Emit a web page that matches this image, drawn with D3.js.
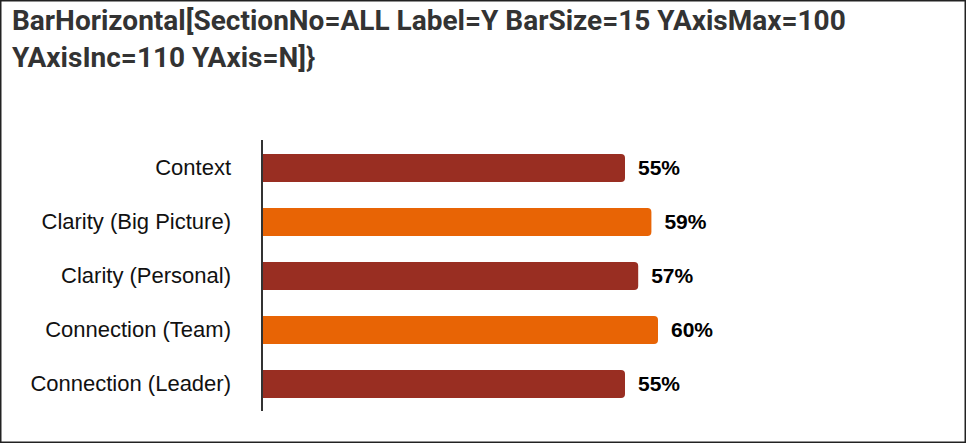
<!DOCTYPE html>
<html><head><meta charset="utf-8">
<script src="https://cdn.jsdelivr.net/npm/d3@7"></script>
<style>html,body{margin:0;padding:0;background:#fff;}svg{display:block;}</style>
</head><body>
<svg id="chart" width="967" height="444"></svg>
<script>
const titleLines = ["BarHorizontal[SectionNo=ALL Label=Y BarSize=15 YAxisMax=100", "YAxisInc=110 YAxis=N]}"];
const categories = ["Context", "Clarity (Big Picture)", "Clarity (Personal)", "Connection (Team)", "Connection (Leader)"];
const values = [55, 59, 57, 60, 55];
const barColors = ["#992e22", "#e86405", "#992e22", "#e86405", "#992e22"];
const yAxisMax = 100;

const svg = d3.select("#chart");
svg.append("rect").attr("x", 0.75).attr("y", 0.75).attr("width", 964.5).attr("height", 441.5)
  .attr("fill", "#fff").attr("stroke", "#222").attr("stroke-width", 1.5);

svg.append("g").selectAll("text").data(titleLines).join("text")
  .attr("x", 12).attr("y", (d, i) => 30 + i * 37)
  .attr("font-family", "Roboto").attr("font-weight", "bold").attr("font-size", 28)
  .attr("fill", "#333").text(d => d);

const x = d3.scaleLinear().domain([0, yAxisMax]).range([262, 922]);
const y = d3.scaleBand().domain(categories).range([141, 411]).paddingInner(0.48).paddingOuter(0.24);

const bars = svg.append("g");
const bh = y.bandwidth();
const r = 4;
bars.selectAll("path").data(categories).join("path")
  .attr("fill", (d, i) => barColors[i])
  .attr("d", (d, i) => {
    const x0 = x(0), x1 = x(values[i]), y0 = y(d), y1 = y0 + bh;
    return `M${x0},${y0}H${x1 - r}Q${x1},${y0} ${x1},${y0 + r}V${y1 - r}Q${x1},${y1} ${x1 - r},${y1}H${x0}Z`;
  });

svg.append("g").selectAll("text").data(categories).join("text")
  .attr("x", (d, i) => x(values[i]) + 13).attr("y", d => y(d) + bh / 2 - 1)
  .attr("dominant-baseline", "central")
  .attr("font-family", "Liberation Sans, Arial").attr("font-weight", "bold").attr("font-size", 21)
  .attr("fill", "#000").text((d, i) => values[i] + "%");

const axis = d3.axisLeft(y).tickSize(0).tickPadding(31);
const ag = svg.append("g").attr("transform", `translate(${x(0)},0)`).call(axis);
ag.select(".domain").attr("stroke", "#333").attr("stroke-width", 2).attr("d", "M0,140V411");
ag.selectAll("text").attr("font-family", "Liberation Sans, Arial").attr("font-size", 22).attr("fill", "#111");
</script>
</body></html>
